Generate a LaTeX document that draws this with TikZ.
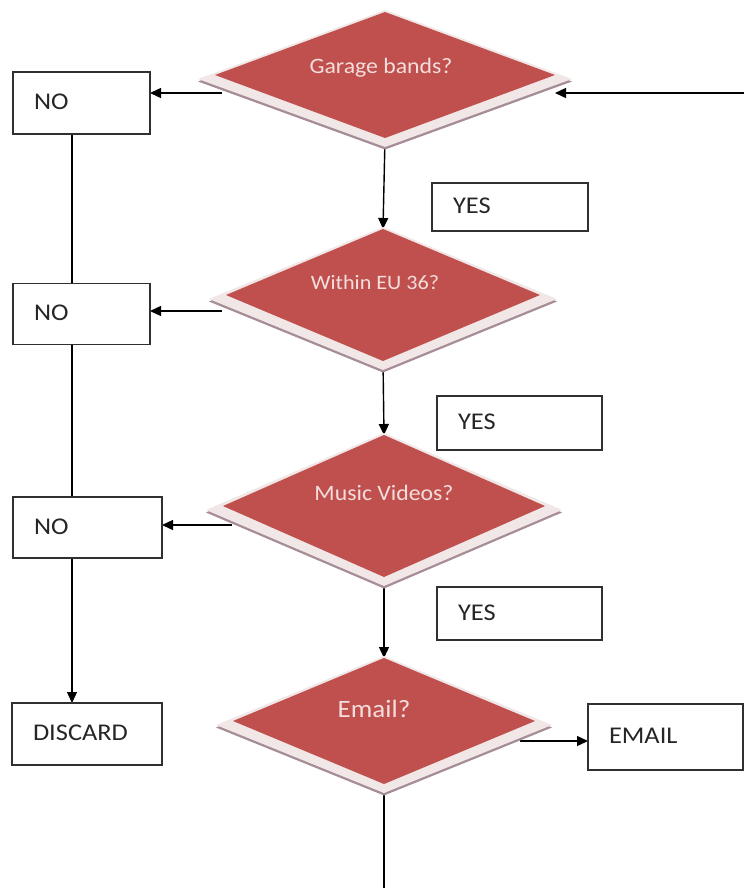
\documentclass[tikz,border=0pt]{standalone}
\usepackage{fontspec}
\newfontfamily\boxfont[FakeStretch=1.1]{Carlito}
\newfontfamily\qfont[FakeStretch=1.08]{Carlito}
\usetikzlibrary{arrows.meta,calc,shapes.geometric}
\pgfdeclarelayer{background}
\pgfsetlayers{background,main}

\definecolor{qred}{HTML}{C0504D}
\definecolor{qtext}{HTML}{F4DEDD}
\definecolor{bevel}{HTML}{F2E7E7}
\definecolor{bshadow}{HTML}{A68C96}
\definecolor{ink}{HTML}{262626}
\definecolor{frame}{HTML}{303030}

% decision: [node options]{name}{cx}{cy}{half width}{half height}{text}
\newcommand\decision[7][]{%
  \fill[bshadow] (#3,#4-#6+1) -- (#3+#5+17,#4+6.5) -- (#3,#4+#6+11.5) -- (#3-#5-17,#4+6.5) -- cycle;
  \fill[bevel] (#3,#4-#6-2) -- (#3+#5+17,#4+4) -- (#3,#4+#6+9) -- (#3-#5-17,#4+4) -- cycle;
  \node[decision, minimum width=2*#5, minimum height=2*#6, #1] (#2) at (#3,#4) {#7};
}

\begin{document}
\begin{tikzpicture}[x=1pt, y=-1pt,
  decision/.style={diamond, aspect=2.5, fill=qred, inner sep=0pt, outer sep=0pt,
    text=qtext, font=\qfont\fontsize{22}{22}\selectfont,
    text height=14pt, text depth=25pt},
  box/.style={rectangle, draw=frame, line width=1.4pt, fill=white,
    inner xsep=21pt, inner ysep=0pt, outer sep=0pt, align=left,
    text=ink, font=\boxfont\fontsize{24}{24}\selectfont,
    text height=16pt, text depth=3pt},
  arr/.style={draw=black, line width=1.4pt, -{Triangle[length=11pt,width=10pt]}},
  link/.style={draw=black, line width=1.4pt}
]
\useasboundingbox (0,0) rectangle (744,888);

% decisions
\decision[text depth=17pt]{d1}{385}{75}{170}{63}{Garage bands?\hspace*{8pt}}
\decision[font=\qfont\fontsize{20.5}{20.5}\selectfont]{d2}{383}{295}{157}{66}{Within EU 36?\hspace*{16pt}}
\decision{d3}{384}{506}{161}{71}{Music Videos?}
\decision[font=\qfont\fontsize{25}{25}\selectfont, text depth=22pt]{d4}{384}{721}{151}{63}{Email?\hspace*{20pt}}

% answer boxes
\node[box, minimum width=137pt, minimum height=62pt, text width=95pt]  (no1) at (81.5,103) {NO};
\node[box, minimum width=137pt, minimum height=61pt, text width=95pt]  (no2) at (81.5,314) {NO};
\node[box, minimum width=149pt, minimum height=61pt, text width=107pt] (no3) at (87.5,527.5) {NO};
\node[box, minimum width=150pt, minimum height=62pt, text width=108pt] (discard) at (87,734) {DISCARD};
\node[box, minimum width=156pt, minimum height=48pt, text width=114pt] (yes1) at (510,207) {YES};
\node[box, minimum width=165pt, minimum height=54pt, text width=123pt] (yes2) at (519.5,423) {YES};
\node[box, minimum width=165pt, minimum height=53pt, text width=123pt] (yes3) at (519.5,613.5) {YES};
\node[box, minimum width=155pt, minimum height=66pt, text width=113pt] (email) at (665.5,737) {EMAIL};

\coordinate (spine) at (72,0);
\coordinate (entry) at (744,93);
\coordinate (exit) at (384,888);

\begin{pgfonlayer}{background}
  \fill[white] (0,0) rectangle (744,888);
  % main line of questions
  \draw[arr] (entry) -- (entry -| d1.east);
  \draw[arr] (d1.south) -- (d2.north);
  \draw[arr] (d2.south) -- (d3.north);
  \draw[arr] (d3.south) -- (d4.north);
  \draw[link] (d4.south) -- (exit);
  % answers
  \draw[arr] ([shift={(7,18)}]d1.west) coordinate (t1) -- (t1 -| no1.east);
  \draw[arr] ([shift={(-4,16)}]d2.west) coordinate (t2) -- (t2 -| no2.east);
  \draw[arr] ([shift={(9,19)}]d3.west) coordinate (t3) -- (t3 -| no3.east);
  \draw[arr] ([shift={(-15,20)}]d4.east) coordinate (t4) -- (t4 -| email.west);
  % the NO column
  \draw[link] (no1.south -| spine) -- (no2.north -| spine);
  \draw[link] (no2.south -| spine) -- (no3.north -| spine);
  \draw[arr] (no3.south -| spine) -- (discard.north -| spine);
\end{pgfonlayer}
\end{tikzpicture}
\end{document}
